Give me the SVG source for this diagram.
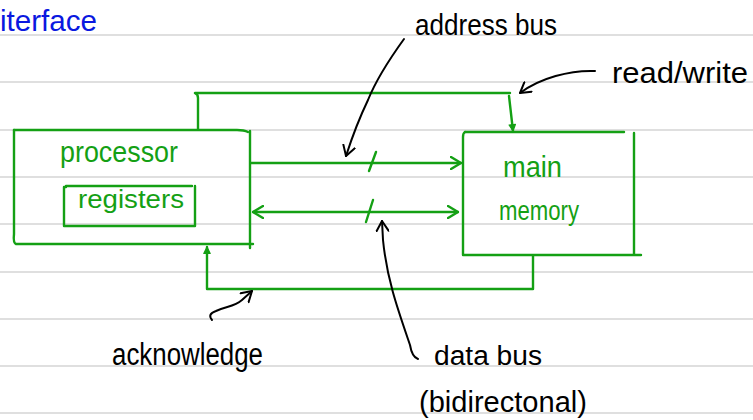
<svg xmlns="http://www.w3.org/2000/svg" width="753" height="420" viewBox="0 0 753 420">
  <style>
    .rule { stroke: #d4d4d4; stroke-width: 1.6; }
    .ink { fill: none; stroke: #14a014; stroke-width: 2.4; stroke-linecap: round; stroke-linejoin: round; }
    .pen { fill: none; stroke: #000; stroke-width: 2; stroke-linecap: round; stroke-linejoin: round; }
    .glabel { font-family: "Liberation Sans", "DejaVu Sans", sans-serif; fill: #14a014; }
    .blabel { font-family: "Liberation Sans", "DejaVu Sans", sans-serif; fill: #000; }
    .title { font-family: "Liberation Sans", "DejaVu Sans", sans-serif; fill: #0a18e0; }
  </style>
  <defs>
    <marker id="chevG" viewBox="0 0 12 14" refX="11" refY="7" markerWidth="12" markerHeight="14" markerUnits="userSpaceOnUse" orient="auto-start-reverse">
      <path d="M1,1 L11,7 L1,13" fill="none" stroke="#14a014" stroke-width="2.4" stroke-linecap="round" stroke-linejoin="round"/>
    </marker>
    <marker id="chevK" viewBox="0 0 12 14" refX="11" refY="7" markerWidth="12" markerHeight="14" markerUnits="userSpaceOnUse" orient="auto">
      <path d="M1,1 L11,7 L1,13" fill="none" stroke="#000" stroke-width="2" stroke-linecap="round" stroke-linejoin="round"/>
    </marker>
    <marker id="triG" viewBox="0 0 10 10" refX="9" refY="5" markerWidth="9" markerHeight="8" markerUnits="userSpaceOnUse" orient="auto">
      <path d="M1,1 L9,5 L1,9 Z" fill="#14a014" stroke="#14a014" stroke-width="1.5" stroke-linejoin="round"/>
    </marker>
  </defs>

  <!-- ruled paper -->
  <g id="paper">
    <rect width="753" height="420" fill="#fff"/>
    <line class="rule" x1="0" y1="35" x2="753" y2="35"/>
    <line class="rule" x1="0" y1="82" x2="753" y2="82"/>
    <line class="rule" x1="0" y1="130" x2="753" y2="130"/>
    <line class="rule" x1="0" y1="177" x2="753" y2="177"/>
    <line class="rule" x1="0" y1="224" x2="753" y2="224"/>
    <line class="rule" x1="0" y1="272" x2="753" y2="272"/>
    <line class="rule" x1="0" y1="319" x2="753" y2="319"/>
    <line class="rule" x1="0" y1="366" x2="753" y2="366"/>
    <line class="rule" x1="0" y1="413" x2="753" y2="413"/>
  </g>

  <text class="title" x="0" y="31" font-size="30" textLength="97" lengthAdjust="spacingAndGlyphs">iterface</text>

  <!-- processor with its registers -->
  <g id="processor">
    <path class="ink" d="M14,130 L237,130 Q244,130 248,132"/>
    <path class="ink" d="M250,131 L250,248"/>
    <path class="ink" d="M14,130 L14,234 Q13,243 16,244 L253,244"/>
    <text class="glabel" x="60" y="162" font-size="29" textLength="118" lengthAdjust="spacingAndGlyphs">processor</text>
    <g id="registers">
      <path class="ink" d="M66,187 L64,187 L64,226 L192,226 L195,226 L195,186 M66,186 L192,186"/>
      <text class="glabel" x="78" y="208" font-size="25" textLength="106" lengthAdjust="spacingAndGlyphs">registers</text>
    </g>
  </g>

  <!-- main memory -->
  <g id="main-memory">
    <path class="ink" d="M465,132 L624,132"/>
    <path class="ink" d="M463,137 Q463,133 465,132 M463,137 L463,255 L641,255"/>
    <path class="ink" d="M634,133 L634,254"/>
    <text class="glabel" x="503" y="177" font-size="29" textLength="59" lengthAdjust="spacingAndGlyphs">main</text>
    <text class="glabel" x="499" y="220" font-size="27" textLength="80" lengthAdjust="spacingAndGlyphs">memory</text>
  </g>

  <!-- buses and control lines -->
  <g id="connectors">
    <!-- address bus -->
    <path class="ink" d="M251,163 L461,163" marker-end="url(#chevG)"/>
    <path class="ink" d="M369,171 L376,152"/>
    <!-- data bus, both ways -->
    <path class="ink" d="M253,212 L458,212" marker-start="url(#chevG)" marker-end="url(#chevG)"/>
    <path class="ink" d="M366,222 L373,200"/>
    <!-- read/write -->
    <path class="ink" d="M198,129 L198,98 Q198,94 195,93 L510,93"/>
    <path class="ink" d="M509,96 L513,131" marker-end="url(#triG)"/>
    <!-- acknowledge -->
    <path class="ink" d="M533,256 L533,289 L207,289 L207,247" marker-end="url(#triG)"/>

    <!-- pointers from the notes -->
    <path class="pen" d="M404,39 Q378,75 368,100 Q356,125 346,156" marker-end="url(#chevK)"/>
    <path class="pen" d="M595,71 C570,70 540,78 520,93" marker-end="url(#chevK)"/>
    <path class="pen" d="M418,359 Q412,357 410,345 C398,310 387,280 383,240 L382,221" marker-end="url(#chevK)"/>
    <path class="pen" d="M212,320 Q207,314 216,311 C226,306 234,307 242,300 L252,291" marker-end="url(#chevK)"/>
  </g>

  <!-- notes -->
  <g id="note-address">
    <text class="blabel" x="415" y="35" font-size="29" textLength="142" lengthAdjust="spacingAndGlyphs">address bus</text>
  </g>
  <g id="note-readwrite">
    <text class="blabel" x="612" y="83" font-size="29" textLength="136" lengthAdjust="spacingAndGlyphs">read/write</text>
  </g>
  <g id="note-acknowledge">
    <text class="blabel" x="112" y="365" font-size="31" textLength="151" lengthAdjust="spacingAndGlyphs">acknowledge</text>
  </g>
  <g id="note-data">
    <text class="blabel" x="434" y="365" font-size="27" textLength="108" lengthAdjust="spacingAndGlyphs">data bus</text>
    <text class="blabel" x="419" y="412" font-size="29" textLength="168" lengthAdjust="spacingAndGlyphs">(bidirectonal)</text>
  </g>
</svg>
